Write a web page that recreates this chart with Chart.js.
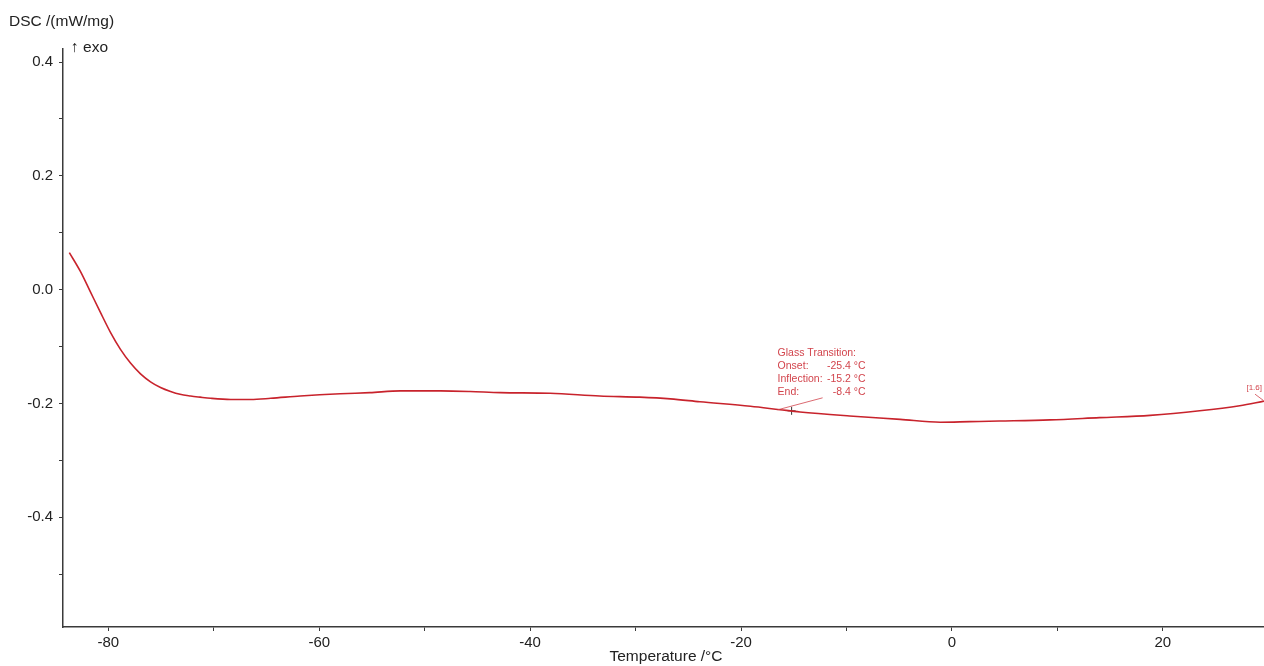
<!DOCTYPE html>
<html>
<head>
<meta charset="utf-8">
<script src="https://cdn.jsdelivr.net/npm/chart.js@4/dist/chart.umd.min.js"></script>
<style>
  html, body { margin: 0; padding: 0; background: #fff; }
  canvas { display: block; }
</style>
</head>
<body>
<canvas id="dsc" width="1264" height="666"></canvas>
<script>
// DSC heating curve (temperature in °C, heat flow in mW/mg)
const temperatures = [-83.7, -82.65, -81.7, -80.75, -79.8, -78.85, -77.9, -76.95, -76.0, -75.05,
  -74.1, -73.2, -72.2, -71.3, -70.3, -68.4, -66.5, -64.6, -61.8, -58.0, -55.2, -52.3, -48.5, -45.7, -42.8,
  -38.1, -33.4, -29.6, -26.7, -23.9, -19.1, -16.3, -14.4, -9.7, -4.9, -1.1, 1.7, 4.5, 9.3,
  14.0, 18.8, 23.5, 27.3, 29.6];
const heatFlow = [0.065, 0.032, -0.004, -0.040, -0.075, -0.105, -0.129, -0.148, -0.162, -0.172,
  -0.179, -0.184, -0.187, -0.189, -0.191, -0.193, -0.193, -0.191, -0.187, -0.183, -0.181, -0.178, -0.178, -0.179, -0.181,
  -0.182, -0.187, -0.189, -0.192, -0.197, -0.205, -0.211, -0.215, -0.222, -0.228, -0.233, -0.232, -0.231, -0.229,
  -0.225, -0.221, -0.213, -0.204, -0.196];

// Glass transition evaluation
const inflectionPoint = [{ x: -15.2, y: -0.213 }];
const glassTransitionLines = [
  ["Glass Transition:", ""],
  ["Onset:", "-25.4 °C"],
  ["Inflection:", "-15.2 °C"],
  ["End:", "-8.4 °C"]
];
const curveTag = "[1.6]";

const xRange = { min: -84.3, max: 29.6 };
const yRange = { min: -0.593, max: 0.423 };
const xMajorStep = 20;
const yMajorStep = 0.2;

const FONT = "'Liberation Sans', Arial, sans-serif";
const CURVE = "#c8232c";
const NOTE = "#d2444c";
const AXIS = "#3a3a3a";

const textPlugin = {
  id: "dscText",
  afterDraw(chart) {
    const ctx = chart.ctx;
    const xs = chart.scales.x, ys = chart.scales.y;
    ctx.save();
    ctx.fillStyle = "#222";
    ctx.textBaseline = "middle";
    ctx.font = "15.5px " + FONT;
    ctx.textAlign = "left";
    ctx.fillText("DSC /(mW/mg)", 9, 22);
    ctx.fillText("\u2191 exo", 71, 48);
    ctx.textAlign = "center";
    ctx.fillText("Temperature /\u00B0C", 666, 657);

    // glass transition annotation anchored on the inflection marker
    const mx = xs.getPixelForValue(inflectionPoint[0].x);
    const my = ys.getPixelForValue(inflectionPoint[0].y);
    ctx.strokeStyle = NOTE;
    ctx.lineWidth = 0.8;
    ctx.beginPath();
    ctx.moveTo(mx - 14, my - 1);
    ctx.lineTo(mx + 31, my - 13);
    ctx.stroke();
    ctx.fillStyle = NOTE;
    ctx.font = "10.5px " + FONT;
    const left = mx - 14, right = mx + 74;
    glassTransitionLines.forEach((row, i) => {
      const y = my - 57.5 + i * 12.8;
      ctx.textAlign = "left";
      ctx.fillText(row[0], left, y);
      ctx.textAlign = "right";
      if (row[1]) ctx.fillText(row[1], right, y);
    });

    // curve tag at the end of the trace
    const ex = xs.getPixelForValue(temperatures[temperatures.length - 1]);
    const ey = ys.getPixelForValue(heatFlow[heatFlow.length - 1]);
    ctx.beginPath();
    ctx.moveTo(ex - 9, ey - 7);
    ctx.lineTo(ex - 1, ey - 1);
    ctx.stroke();
    ctx.font = "8px " + FONT;
    ctx.textAlign = "right";
    ctx.fillText(curveTag, ex - 2, ey - 13);
    ctx.restore();
  }
};

new Chart(document.getElementById("dsc"), {
  type: "line",
  data: {
    datasets: [
      {
        data: temperatures.map((t, i) => ({ x: t, y: heatFlow[i] })),
        borderColor: CURVE,
        borderWidth: 1.6,
        pointRadius: 0,
        cubicInterpolationMode: "monotone",
        fill: false
      },
      {
        data: inflectionPoint,
        showLine: false,
        pointStyle: "cross",
        pointRadius: 4,
        borderColor: "#333",
        borderWidth: 1,
        backgroundColor: "#333"
      }
    ]
  },
  options: {
    responsive: false,
    devicePixelRatio: 1,
    animation: false,
    events: [],
    layout: { autoPadding: false, padding: { top: 49, left: 0, right: 0, bottom: 0 } },
    plugins: { legend: { display: false }, tooltip: { enabled: false } },
    scales: {
      x: {
        type: "linear",
        min: xRange.min,
        max: xRange.max,
        afterFit(scale) { scale.height = 39; scale.paddingLeft = 0; scale.paddingRight = 0; },
        border: { color: AXIS, width: 1.5 },
        grid: { drawOnChartArea: false, drawTicks: true, tickLength: 4, color: AXIS },
        ticks: {
          stepSize: 10,
          includeBounds: false,
          autoSkip: false,
          maxRotation: 0,
          padding: 3,
          color: "#222",
          font: { family: FONT, size: 15 },
          callback: (v) => (Math.round(v) % xMajorStep === 0 ? String(Math.round(v)) : "")
        }
      },
      y: {
        type: "linear",
        min: yRange.min,
        max: yRange.max,
        afterFit(scale) { scale.width = 63; scale.paddingTop = 0; scale.paddingBottom = 0; },
        border: { color: AXIS, width: 1.5 },
        grid: { drawOnChartArea: false, drawTicks: true, tickLength: 4, color: AXIS },
        ticks: {
          stepSize: 0.1,
          includeBounds: false,
          autoSkip: false,
          padding: 6,
          color: "#222",
          font: { family: FONT, size: 15 },
          callback: (v) => {
            const tenths = Math.round(v * 10);
            return tenths % (yMajorStep * 10) === 0 ? (tenths / 10).toFixed(1) : "";
          }
        }
      }
    }
  },
  plugins: [textPlugin]
});
</script>
</body>
</html>
